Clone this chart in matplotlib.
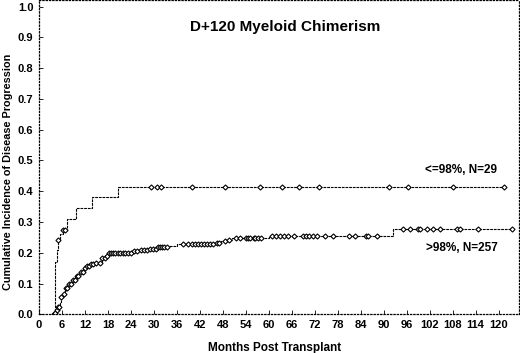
import numpy as np
import matplotlib.pyplot as plt

plt.rcParams['font.family'] = ['Liberation Sans', 'DejaVu Sans']
plt.rcParams['font.weight'] = 'bold'

# Grupo <=98% (N=29): tiempos de evento (meses) y incidencia acumulada
t_bajo = [3.9, 4.2, 4.3, 4.6, 5.0, 5.5, 6.2, 7.2, 9.7, 13.9, 20.6, 121.5]
ci_bajo = [0.0, 0.0, 0.17, 0.21, 0.24, 0.26, 0.275, 0.31, 0.345, 0.38, 0.414, 0.414]
cens_bajo = [5.0, 6.2, 6.8, 29.2, 30.8, 31.8, 39.9, 48.5, 57.7, 63.4, 68.0, 73.0,
             91.3, 96.3, 108.2, 121.5]

# Grupo >98% (N=257)
t_alto = [3.9, 4.2, 4.6, 5.0, 5.4, 5.8, 6.3, 6.8, 7.5, 8.5, 9.5, 10.5, 11.6, 12.5,
          13.3, 15.0, 16.4, 17.3, 18.1, 24.5, 26.0, 28.5, 31.0, 33.5, 36.0, 46.5,
          47.5, 49.0, 50.5, 60.0, 92.3, 123.4]
ci_alto = [0.0, 0.005, 0.015, 0.025, 0.04, 0.055, 0.065, 0.085, 0.098, 0.111, 0.125,
           0.138, 0.149, 0.157, 0.162, 0.168, 0.182, 0.19, 0.198, 0.205, 0.21, 0.213,
           0.218, 0.222, 0.228, 0.232, 0.238, 0.243, 0.247, 0.253, 0.277, 0.277]
cens_alto = [4.0, 4.3, 4.6, 5.0, 5.3, 5.8, 6.5, 7.0, 7.4, 7.8, 8.3, 8.8, 9.3, 9.8,
             10.3, 10.9, 11.5, 12.0, 12.5, 13.0, 13.6, 14.2, 15.0, 15.8, 16.5, 17.2,
             17.8, 18.3, 18.8, 19.3, 19.9, 20.5, 21.2, 21.8, 22.5, 23.2, 24.0, 24.8,
             25.5, 26.5, 27.5, 28.3, 29.0, 29.8, 30.5, 31.0, 31.5, 32.0, 32.6, 33.3,
             37.5, 39.0, 40.0, 40.8, 41.5, 42.3, 43.0, 43.8, 44.6, 45.5, 46.5, 47.0,
             48.5, 49.5, 51.5, 52.5, 54.0, 54.5, 55.2, 56.0, 56.5, 57.3, 58.0, 60.8,
             62.0, 63.0, 64.0, 65.1, 66.5, 69.0, 69.8, 70.6, 71.5, 72.5, 74.7, 76.8,
             80.8, 82.5, 85.4, 86.0, 88.2, 95.0, 96.9, 99.0, 99.5, 101.2, 102.9,
             104.7, 109.0, 109.9, 114.7, 123.4]

def valor_en(t, ci, x):
    # valor de la curva escalonada en el tiempo x
    i = np.searchsorted(t, x, side='right') - 1
    return ci[max(i, 0)]

fig = plt.figure(figsize=(5.2, 3.53), dpi=100)
ax = fig.add_axes([0.075, 0.1096, 0.923, 0.889])

for t, ci, cens in [(t_bajo, ci_bajo, cens_bajo), (t_alto, ci_alto, cens_alto)]:
    ax.plot(t, ci, drawstyle='steps-post', color='black', lw=0.8,
            linestyle=(0, (2.5, 0.8)))
    ycens = [valor_en(t, ci, x) for x in cens]
    ax.plot(cens, ycens, linestyle='none', marker='D', ms=2.6, mfc='white',
            mec='black', mew=0.8)

ax.set_xlim(0, 125.3)
ax.set_ylim(0, 1.02)
ax.set_xticks(np.arange(0, 121, 6))
ax.set_yticks(np.arange(0, 1.01, 0.1))
ax.set_yticklabels([f'{v:.1f}' for v in np.arange(0, 1.01, 0.1)])
ax.tick_params(direction='in', length=3, width=0.6, labelsize=8, pad=4)
for s in ax.spines.values():
    s.set_linestyle(':')
    s.set_linewidth(0.9)

ax.set_xlabel('Months Post Transplant', fontsize=8.5, fontweight='bold')
ax.xaxis.set_label_coords(0.49, -0.088)
ax.set_ylabel('Cumulative Incidence of Disease Progression', fontsize=7.8,
              fontweight='bold')
ax.yaxis.set_label_coords(-0.055, 0.455)
ax.text(0.512, 0.915, 'D+120 Myeloid Chimerism', transform=ax.transAxes,
        ha='center', va='center', fontsize=11, fontweight='bold')
ax.text(0.955, 0.46, '<=98%, N=29', transform=ax.transAxes, ha='right',
        va='center', fontsize=8.5, fontweight='bold')
ax.text(0.955, 0.211, '>98%, N=257', transform=ax.transAxes, ha='right',
        va='center', fontsize=8.5, fontweight='bold')

fig.savefig('out.png', dpi=100)
